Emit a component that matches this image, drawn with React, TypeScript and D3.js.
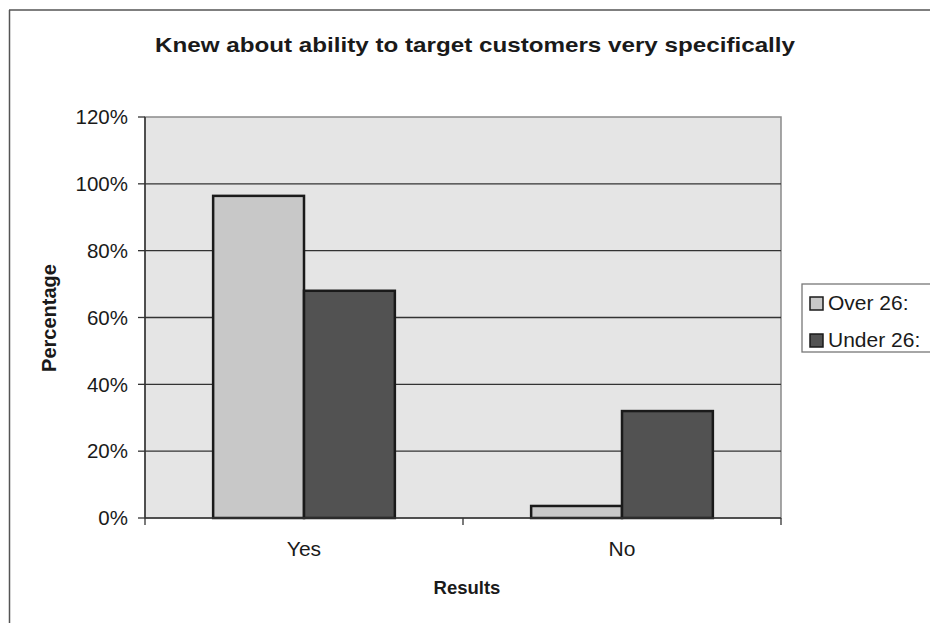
import React from "react";
import * as d3 from "d3";

// Survey results: share of respondents per answer, by age group
const categories = ["Yes", "No"];
const seriesNames = ["Over 26:", "Under 26:"];
const over26 = [96.4, 3.6];
const under26 = [68, 32];
const yTicks = [0, 20, 40, 60, 80, 100, 120];

const W = 930;
const H = 623;
const plot = { left: 145, right: 781, top: 117, bottom: 518 };
const seriesColors = ["#c8c8c8", "#525252"];
const font = "'Liberation Sans', Arial, Helvetica, sans-serif";

export default function App() {
  const x0 = d3
    .scaleBand<string>()
    .domain(categories)
    .range([plot.left, plot.right])
    .paddingInner(0)
    .paddingOuter(0);
  // Excel-style gap width of 150%: group uses 2 bars out of 3.5 bar-widths
  const groupW = x0.bandwidth() * (2 / 3.5);
  const x1 = d3
    .scaleBand<string>()
    .domain(seriesNames)
    .range([0, groupW])
    .padding(0);
  const y = d3.scaleLinear().domain([0, 120]).range([plot.bottom, plot.top]);

  const seriesValues = [over26, under26];

  return (
    <svg
      width={W}
      height={H}
      style={{ position: "absolute", left: 0, top: 0, background: "#fff" }}
      fontFamily={font}
    >
      {/* outer chart frame */}
      <line x1={9} y1={10} x2={W} y2={10} stroke="#555" strokeWidth={1.5} />
      <line x1={9.5} y1={10} x2={9.5} y2={H} stroke="#555" strokeWidth={1.5} />

      <text
        x={155}
        y={51.5}
        fontSize={21}
        fontWeight="bold"
        fill="#1a1a1a"
        textLength={640}
        lengthAdjust="spacingAndGlyphs"
      >
        Knew about ability to target customers very specifically
      </text>

      {/* plot area */}
      <rect
        x={plot.left}
        y={plot.top}
        width={plot.right - plot.left}
        height={plot.bottom - plot.top}
        fill="#e5e5e5"
        stroke="#8a8a8a"
        strokeWidth={1.5}
      />

      {/* gridlines */}
      {yTicks.slice(1, -1).map((t) => (
        <line
          key={"g" + t}
          x1={plot.left}
          x2={plot.right}
          y1={y(t)}
          y2={y(t)}
          stroke="#333"
          strokeWidth={1.3}
        />
      ))}

      {/* bars */}
      {categories.map((c, ci) => {
        const gx = (x0(c) as number) + (x0.bandwidth() - groupW) / 2;
        return seriesNames.map((s, si) => {
          const v = seriesValues[si][ci];
          return (
            <rect
              key={c + s}
              x={gx + (x1(s) as number)}
              y={y(v)}
              width={x1.bandwidth()}
              height={y(0) - y(v)}
              fill={seriesColors[si]}
              stroke="#1a1a1a"
              strokeWidth={2.5}
            />
          );
        });
      })}

      {/* axes */}
      <line
        x1={plot.left}
        x2={plot.left}
        y1={plot.top}
        y2={plot.bottom}
        stroke="#333"
        strokeWidth={1.5}
      />
      <line
        x1={plot.left}
        x2={plot.right}
        y1={plot.bottom}
        y2={plot.bottom}
        stroke="#333"
        strokeWidth={1.5}
      />
      {yTicks.map((t) => (
        <g key={"t" + t}>
          <line
            x1={plot.left - 7}
            x2={plot.left}
            y1={y(t)}
            y2={y(t)}
            stroke="#333"
            strokeWidth={1.3}
          />
          <text
            x={plot.left - 17}
            y={y(t)}
            dy="0.35em"
            textAnchor="end"
            fontSize={20.5}
            fill="#1a1a1a"
          >
            {t}%
          </text>
        </g>
      ))}
      {[plot.left, (plot.left + plot.right) / 2, plot.right].map((tx, i) => (
        <line
          key={"xt" + i}
          x1={tx}
          x2={tx}
          y1={plot.bottom}
          y2={plot.bottom + 7}
          stroke="#333"
          strokeWidth={1.3}
        />
      ))}
      {categories.map((c) => (
        <text
          key={"c" + c}
          x={(x0(c) as number) + x0.bandwidth() / 2}
          y={556}
          textAnchor="middle"
          fontSize={21}
          fill="#1a1a1a"
        >
          {c}
        </text>
      ))}

      <text
        x={467}
        y={594}
        textAnchor="middle"
        fontSize={18.5}
        fontWeight="bold"
        fill="#1a1a1a"
      >
        Results
      </text>
      <text
        transform={`translate(56,318) rotate(-90)`}
        textAnchor="middle"
        fontSize={20}
        fontWeight="bold"
        fill="#1a1a1a"
      >
        Percentage
      </text>

      {/* legend */}
      <rect
        x={802}
        y={284}
        width={140}
        height={68}
        fill="#fff"
        stroke="#777"
        strokeWidth={1.3}
      />
      {seriesNames.map((s, i) => (
        <g key={"l" + s} transform={`translate(0, ${i * 37})`}>
          <rect
            x={810}
            y={297}
            width={13}
            height={13}
            fill={seriesColors[i]}
            stroke="#1a1a1a"
            strokeWidth={1.5}
          />
          <text x={828} y={310} fontSize={21} fill="#1a1a1a">
            {s}
          </text>
        </g>
      ))}
    </svg>
  );
}
